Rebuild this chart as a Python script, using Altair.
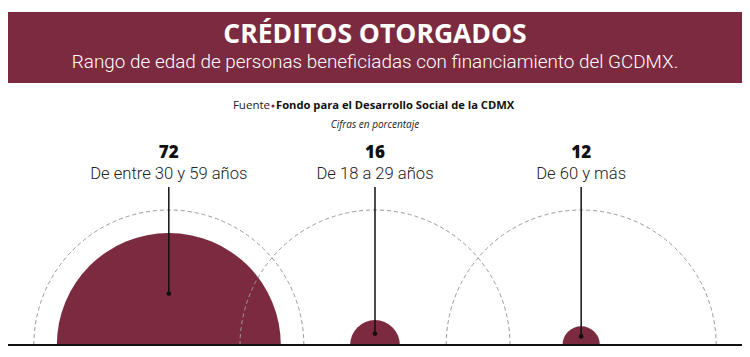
import altair as alt
import pandas as pd

# ---- data ----
categories = ["De entre 30 y 59 años", "De 18 a 29 años", "De 60 y más"]
values = [72, 16, 12]

title_text = "CRÉDITOS OTORGADOS"
subtitle_text = "Rango de edad de personas beneficiadas con financiamiento del GCDMX."
source_label = "Fuente"
source_text = "Fondo para el Desarrollo Social de la CDMX"
note_text = "Cifras en porcentaje"

MAROON = "#7c2a40"
W, H = 734, 341
BASE = 337  # baseline pixel inside plot
COND = "Roboto"

df = pd.DataFrame({"cat": categories, "value": values})

xsc = alt.Scale(type="point", domain=categories, range=[0, W], padding=0.78)
X = alt.X("cat:N", scale=xsc, axis=None)
px_per_unit = 112 / 72
ysc = alt.Scale(domain=[0, BASE / px_per_unit], range=[BASE, 0], zero=True, nice=False)
rsc = alt.Scale(type="linear", domain=[0, 72], range=[0, 112], zero=True)

base = alt.Chart(df)

filled = base.mark_arc(theta=4.71239, theta2=7.85398, color=MAROON).encode(
    x=X, y=alt.value(BASE),
    radius=alt.Radius("value:Q", scale=rsc, stack=None),
)

dashed = base.mark_arc(theta=4.71239, theta2=7.85398, fill="white", fillOpacity=0,
                       stroke="#999999", strokeWidth=1, strokeDash=[4, 3]).encode(
    x=X, y=alt.value(BASE), radius=alt.value(135),
)

calc = base.transform_calculate(dot="datum.value * 0.46")
rules = calc.mark_rule(color="#111", strokeWidth=1.5).encode(
    x=X, y=alt.Y("dot:Q", scale=ysc, axis=None), y2=alt.value(179),
)

dots = calc.mark_circle(color="#111", opacity=1, size=22).encode(
    x=X, y=alt.Y("dot:Q", scale=ysc, axis=None),
)

val_text = base.mark_text(font="Open Sans", fontWeight=800, fontSize=17,
                          color="#111", baseline="middle").encode(
    x=X, y=alt.value(145), text="value:Q")
cat_text = base.mark_text(font=COND, fontWeight=300, fontSize=16.6,
                          color="#222", baseline="middle").encode(
    x=X, y=alt.value(166), text="cat:N")

baseline = base.mark_rule(color="#111", strokeWidth=2).encode(
    x=alt.value(0), x2=alt.value(W), y=alt.value(BASE))

hdr = pd.DataFrame({"t": [title_text], "s": [subtitle_text], "f": [source_label],
                    "g": [source_text], "n": [note_text]})
hb = alt.Chart(hdr)
banner = hb.mark_rect(color=MAROON).encode(
    x=alt.value(0), x2=alt.value(W), y=alt.value(4), y2=alt.value(75))
t1 = hb.mark_text(font="Open Sans", fontWeight="bold", fontSize=26.5, color="white",
                  baseline="middle").encode(x=alt.value(W / 2), y=alt.value(27), text="t:N")
t2 = hb.mark_text(font=COND, fontWeight=300, fontSize=18.9, color="white",
                  baseline="middle").encode(x=alt.value(W / 2), y=alt.value(54), text="s:N")
f1 = hb.mark_text(font="Open Sans", fontSize=11.5, color="#222", align="right",
                  baseline="middle").encode(x=alt.value(262), y=alt.value(98), text="f:N")
f2 = hb.mark_text(font="Open Sans", fontSize=11.2, fontWeight="bold", color="#111", align="left",
                  baseline="middle").encode(x=alt.value(268), y=alt.value(98), text="g:N")
bullet = hb.mark_circle(color=MAROON, opacity=1, size=10).encode(
    x=alt.value(265), y=alt.value(98))
n1 = hb.mark_text(font="Open Sans", fontSize=10, fontStyle="italic", color="#222",
                  baseline="middle").encode(x=alt.value(W / 2), y=alt.value(117), text="n:N")

chart = alt.layer(
    banner, t1, t2, f1, bullet, f2, n1,
    filled, dashed, rules, dots, val_text, cat_text, baseline,
).properties(width=W, height=H, padding=0, autosize=alt.AutoSizeParams(type="none")
).configure_view(stroke=None)

chart.save("out.html", embed_options={"renderer": "svg", "actions": False})
